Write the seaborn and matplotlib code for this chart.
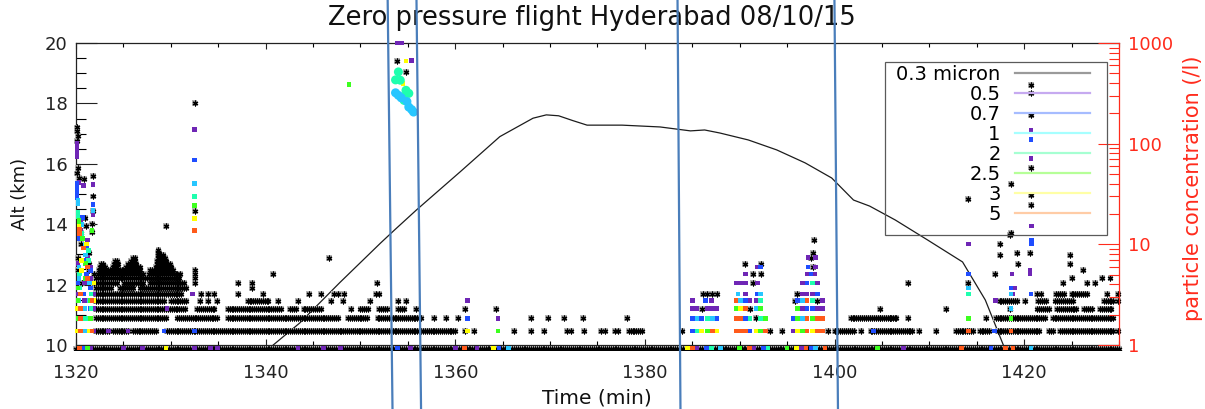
import numpy as np
import pandas as pd
import matplotlib
matplotlib.use("Agg")
import matplotlib.pyplot as plt
from matplotlib.lines import Line2D
from matplotlib.patches import Rectangle
from matplotlib.ticker import MultipleLocator, FixedLocator, FuncFormatter, LogLocator, NullFormatter
from matplotlib.transforms import Bbox, TransformedBbox, blended_transform_factory
import seaborn as sns

# ---------------------------------------------------------------------------
# Data
# ---------------------------------------------------------------------------
UNIT = 0.46          # particles per litre for one count in a sample
SAMPLE_STEP = 0.2    # minutes between samples of the counter

channels = ["0.3 micron", "0.5", "0.7", "1", "2", "2.5", "3", "5"]
point_colors = ["#000000", "#6f26b5", "#1f4dff", "#27c6ff",
                "#1effae", "#3cff1e", "#ffff00", "#ff5a1a"]
legend_colors = ["#9a9a9a", "#c6aaf0", "#a6bcff", "#a6ffff",
                 "#a6ffd2", "#b6ff98", "#ffffa6", "#ffcca6"]

# flight altitude profile
alt_time = [1340.8, 1343.6, 1347.8, 1352.1, 1353.6, 1355.9, 1360.5, 1364.7,
            1368.2, 1369.6, 1370.9, 1372.4, 1373.9, 1375.3, 1377.6, 1381.6,
            1384.8, 1386.3, 1387.9, 1390.9, 1393.9, 1396.9, 1399.7, 1402.0,
            1403.7, 1406.4, 1409.8, 1413.5, 1415.9, 1417.8]
alt_km = [10.0, 10.73, 12.06, 13.37, 13.81, 14.47, 15.73, 16.9,
          17.51, 17.62, 17.59, 17.43, 17.28, 17.28, 17.28, 17.22,
          17.09, 17.12, 17.02, 16.79, 16.46, 16.03, 15.53, 14.8,
          14.6, 14.14, 13.48, 12.75, 11.49, 10.0]

# 0.3 micron channel: continuous stretches (start min, end min, counts)
runs_03 = [
    (1320.0, 1430.0, 2),
    (1322.1, 1323.5, 3), (1323.9, 1325.6, 3), (1326.0, 1328.5, 3), (1329.6, 1360.0, 3),
    (1378.3, 1379.7, 3), (1400.0, 1402.1, 3), (1403.8, 1408.2, 3), (1412.8, 1414.6, 3),
    (1415.3, 1416.3, 3), (1417.2, 1421.7, 3), (1422.6, 1423.1, 3), (1423.8, 1429.4, 3),
    (1322.1, 1329.6, 4), (1330.7, 1334.9, 4), (1336.0, 1347.6, 4), (1348.7, 1350.8, 4),
    (1351.8, 1356.4, 4), (1401.7, 1403.7, 4), (1404.0, 1406.5, 4), (1417.0, 1422.3, 4),
    (1423.0, 1429.4, 4),
    (1322.1, 1331.6, 5), (1332.8, 1334.6, 5), (1336.0, 1341.6, 5), (1342.6, 1343.2, 5),
    (1344.0, 1345.8, 5), (1350.0, 1350.8, 5), (1352.0, 1352.9, 5), (1354.0, 1354.6, 5),
    (1421.4, 1422.6, 5), (1423.5, 1425.6, 5), (1426.3, 1427.2, 5), (1428.0, 1429.2, 5),
    (1322.1, 1329.3, 6), (1330.0, 1331.7, 6), (1338.1, 1340.4, 6), (1417.4, 1419.2, 6),
    (1421.5, 1422.3, 6), (1423.3, 1425.2, 6), (1428.4, 1429.4, 6),
    (1322.1, 1331.2, 7), (1423.4, 1424.2, 7), (1425.0, 1426.6, 7),
    (1322.1, 1323.7, 8), (1324.6, 1326.0, 8), (1326.8, 1331.6, 8),
    (1322.1, 1324.3, 9), (1325.1, 1327.2, 9), (1327.8, 1331.4, 9),
    (1322.1, 1331.0, 10),
    (1322.3, 1327.1, 11), (1327.7, 1330.7, 11),
    (1322.4, 1326.9, 12), (1327.8, 1330.3, 12),
    (1322.5, 1323.2, 13), (1323.9, 1324.4, 13), (1325.3, 1326.7, 13), (1328.4, 1330.1, 13),
    (1322.6, 1322.9, 14), (1324.0, 1324.4, 14), (1325.5, 1326.4, 14), (1328.5, 1329.9, 14),
    (1324.1, 1324.3, 15), (1325.8, 1326.3, 15), (1328.5, 1329.6, 15),
    (1326.0, 1326.2, 16), (1328.6, 1329.4, 16),
    (1328.6, 1329.3, 17), (1328.6, 1328.9, 18), (1328.7, 1328.8, 19),
]

# single samples (minute, counts) for each size channel
pts_03 = [
    (1361.0, 3), (1362.0, 3), (1366.2, 3), (1368.0, 3), (1369.4, 3), (1371.8, 3),
    (1372.2, 3), (1373.6, 3), (1375.4, 3), (1375.8, 3), (1376.8, 3), (1377.2, 3),
    (1383.9, 3), (1393.2, 3), (1394.5, 3), (1399.3, 3), (1402.8, 3), (1408.9, 3),
    (1410.7, 3), (1429.9, 3),
    (1357.8, 4), (1359.0, 4), (1360.3, 4), (1368.0, 4), (1369.8, 4), (1371.5, 4),
    (1373.5, 4), (1378.1, 4), (1391.7, 4), (1404.8, 4), (1405.8, 4), (1406.5, 4),
    (1407.7, 4), (1416.0, 4),
    (1349.0, 5), (1355.9, 5), (1361.0, 5), (1364.3, 5), (1386.0, 5), (1391.1, 5),
    (1404.8, 5), (1411.8, 5), (1418.5, 5),
    (1333.1, 6), (1333.9, 6), (1334.9, 6), (1341.3, 6), (1343.4, 6), (1346.9, 6),
    (1348.2, 6), (1351.0, 6), (1354.0, 6), (1354.8, 6), (1395.8, 6), (1398.2, 6),
    (1420.1, 6), (1429.9, 6),
    (1333.2, 7), (1333.9, 7), (1334.6, 7), (1337.1, 7), (1339.7, 7), (1344.6, 7),
    (1345.8, 7), (1347.2, 7), (1347.6, 7), (1348.3, 7), (1351.6, 7), (1352.0, 7),
    (1386.1, 7), (1386.6, 7), (1387.1, 7), (1387.6, 7), (1396.0, 7), (1421.3, 7),
    (1421.8, 7), (1428.7, 7), (1429.9, 7),
    (1338.6, 8),
    (1331.0, 9), (1332.5, 9), (1337.1, 9), (1338.6, 9), (1351.7, 9), (1391.4, 9),
    (1407.7, 9), (1414.1, 9), (1424.1, 9), (1426.6, 9), (1427.5, 9),
    (1425.0, 10), (1428.2, 10), (1429.1, 10), (1332.5, 10),
    (1331.0, 11), (1332.5, 11), (1340.8, 11), (1391.4, 11), (1392.2, 11), (1416.9, 11),
    (1332.5, 12), (1426.2, 12), (1397.7, 13),
    (1390.6, 14), (1392.2, 14), (1419.3, 14), (1424.8, 14),
    (1346.7, 16), (1397.5, 16), (1417.4, 17), (1424.8, 17),
    (1397.7, 18), (1419.2, 18), (1420.6, 18), (1417.4, 22), (1397.8, 24),
    (1418.5, 27), (1418.6, 28), (1329.5, 33), (1332.5, 47), (1420.7, 54),
    (1414.1, 61), (1420.7, 67), (1418.6, 87), (1420.7, 126), (1420.7, 415),
    (1332.5, 548), (1420.7, 685), (1420.7, 826), (1353.9, 1437), (1354.8, 1122),
    (1320.1, 315), (1320.1, 290), (1320.2, 262), (1320.1, 233), (1320.2, 124),
    (1320.1, 110), (1320.3, 100), (1321.8, 104), (1321.8, 65), (1321.8, 47),
    (1320.8, 96), (1321.0, 40), (1321.1, 33), (1320.5, 28), (1320.5, 22),
    (1321.4, 18), (1321.4, 14), (1321.4, 12), (1321.9, 11), (1321.9, 9),
    (1320.2, 16), (1320.2, 12), (1320.6, 9), (1321.7, 35), (1321.7, 29),
]

pts_05 = [
    (1320.1, 217), (1320.1, 195), (1320.1, 175), (1320.1, 160), (1320.3, 90),
    (1321.8, 85), (1321.8, 43), (1320.8, 83), (1320.5, 38), (1320.5, 30),
    (1321.2, 24), (1321.2, 16), (1321.6, 13), (1321.6, 10), (1321.6, 8),
    (1321.6, 6), (1321.6, 4), (1320.2, 14), (1320.2, 7), (1320.2, 5),
    (1320.9, 9), (1320.9, 6), (1320.9, 3), (1321.9, 7), (1321.9, 5), (1321.9, 3),
    (1321.5, 2), (1325.0, 2), (1327.0, 2), (1332.5, 2), (1334.2, 2), (1334.9, 2),
    (1343.4, 2), (1346.1, 2), (1347.9, 2), (1355.3, 2), (1360.0, 2), (1362.3, 2),
    (1385.5, 2), (1391.5, 2), (1396.5, 2), (1407.3, 2),
    (1323.4, 3), (1325.5, 3), (1329.6, 5), (1332.3, 7), (1332.5, 300),
    (1361.3, 6), (1364.5, 4), (1355.4, 1461), (1353.9, 2174), (1354.3, 2174),
    (1385.0, 5), (1385.5, 5), (1386.6, 5), (1387.1, 5), (1387.6, 5), (1385.0, 6), (1387.0, 6),
    (1391.1, 6), (1391.7, 6), (1390.6, 7), (1389.6, 9), (1390.1, 9), (1390.6, 9),
    (1391.9, 9), (1390.6, 11), (1391.9, 13),
    (1395.6, 3), (1396.6, 5), (1398.2, 5), (1398.7, 5), (1398.7, 6), (1396.6, 7),
    (1397.1, 7), (1397.7, 7), (1396.6, 9), (1398.2, 9), (1397.1, 11), (1397.9, 11),
    (1398.0, 13), (1397.2, 16), (1398.0, 16),
    (1417.0, 6), (1418.8, 7), (1418.7, 11), (1420.6, 12), (1420.6, 11), (1414.1, 22),
    (1420.8, 33), (1420.7, 154), (1420.7, 293), (1419.0, 8),
]

pts_07 = [
    (1320.1, 87), (1320.1, 78), (1320.1, 70), (1320.1, 63), (1321.8, 54),
    (1320.7, 40), (1320.4, 30), (1320.4, 25), (1321.1, 20), (1321.1, 15),
    (1321.1, 11), (1320.2, 9), (1320.2, 6), (1320.2, 3), (1321.5, 12),
    (1321.5, 8), (1321.5, 5), (1320.8, 7), (1320.8, 4),
    (1320.8, 2), (1353.9, 2), (1364.6, 2), (1386.5, 2), (1392.5, 2), (1397.5, 2), (1416.5, 2),
    (1329.3, 3), (1332.5, 3), (1361.3, 4), (1332.5, 149), (1404.1, 3),
    (1385.0, 3), (1385.0, 4), (1386.0, 4), (1387.6, 4), (1386.4, 6),
    (1391.1, 3), (1390.6, 4), (1390.6, 6), (1391.9, 7), (1392.2, 13),
    (1395.6, 4), (1397.1, 5), (1397.7, 5), (1396.1, 6), (1398.2, 7), (1397.1, 9),
    (1397.5, 11), (1397.2, 13),
    (1416.9, 3), (1414.1, 11), (1420.7, 7), (1418.6, 8), (1420.8, 24), (1420.8, 22),
    (1420.7, 239),
]

pts_1 = [
    (1320.2, 60), (1320.2, 55), (1321.8, 47), (1320.6, 34), (1321.0, 22),
    (1321.0, 17), (1320.3, 13), (1320.3, 10), (1320.3, 6), (1321.4, 9),
    (1321.4, 6), (1321.4, 4), (1320.9, 5), (1320.9, 3),
    (1365.6, 2), (1388.0, 2), (1398.0, 2), (1420.7, 2),
    (1332.5, 87), (1385.5, 4), (1387.1, 4),
    (1391.7, 5), (1390.1, 6), (1389.8, 7), (1392.2, 7),
    (1396.6, 4), (1396.6, 6),
    (1414.1, 8), (1418.6, 7), (1418.6, 5),
]

pts_2 = [
    (1320.2, 45), (1320.2, 41), (1320.6, 28), (1321.3, 19), (1321.3, 15),
    (1320.4, 11), (1320.4, 8), (1321.6, 7), (1321.6, 5), (1321.0, 4),
    (1387.0, 2), (1393.0, 2),
    (1332.5, 65), (1385.5, 3), (1386.6, 4),
    (1391.1, 4), (1392.2, 4), (1392.2, 6),
    (1397.7, 6), (1397.7, 9), (1414.1, 7),
]

pts_25 = [
    (1320.3, 38), (1320.3, 35), (1321.7, 30), (1320.7, 25), (1321.0, 14),
    (1321.0, 10), (1320.2, 8), (1320.2, 6), (1320.2, 4), (1321.5, 6), (1321.5, 4),
    (1321.2, 2), (1390.0, 2), (1395.0, 2), (1404.5, 2),
    (1332.5, 53), (1348.8, 846), (1364.5, 3), (1386.6, 3),
    (1392.2, 3), (1392.7, 4), (1389.6, 5), (1392.2, 5),
    (1396.6, 3), (1396.1, 4), (1397.7, 4), (1396.1, 5),
    (1414.1, 4), (1418.6, 4),
]

pts_3 = [
    (1320.3, 33), (1321.1, 22), (1320.6, 15), (1320.6, 12), (1321.9, 9),
    (1321.9, 6), (1320.1, 5), (1320.1, 3), (1321.4, 3),
    (1329.5, 2), (1364.0, 2), (1384.5, 2), (1396.0, 2),
    (1332.5, 39), (1361.3, 3), (1354.8, 1437), (1354.5, 865),
    (1386.0, 3), (1387.6, 3), (1391.7, 3), (1390.1, 5),
    (1396.1, 3), (1397.7, 3),
]

pts_5 = [
    (1320.4, 31), (1320.4, 28), (1320.8, 20), (1321.2, 13), (1321.2, 10),
    (1320.5, 7), (1320.5, 5), (1320.5, 4), (1320.5, 3), (1321.7, 6), (1321.7, 3),
    (1320.4, 2), (1361.0, 2), (1385.0, 2), (1391.0, 2), (1397.0, 2), (1399.0, 2),
    (1413.4, 2), (1418.0, 2), (1418.8, 2),
    (1332.5, 30), (1387.1, 3),
    (1389.6, 3), (1390.1, 3), (1390.6, 3), (1392.7, 3), (1389.6, 4), (1390.1, 4),
    (1390.6, 5), (1389.6, 6),
    (1397.1, 3), (1398.2, 3), (1398.7, 3), (1397.1, 4), (1398.2, 4), (1398.7, 4),
    (1397.1, 6), (1414.1, 3), (1418.6, 3),
]

# burst of large particles seen near 1354 min
burst_2 = [(1354.0, 1122), (1353.7, 935), (1354.2, 928), (1354.8, 737),
           (1355.1, 687), (1354.4, 630), (1354.6, 585)]
burst_1 = [(1353.7, 696), (1354.0, 657), (1354.3, 620), (1354.9, 570),
           (1355.1, 502), (1355.4, 474), (1355.6, 448)]

# ---------------------------------------------------------------------------
# Tables
# ---------------------------------------------------------------------------
def run_samples(runs):
    t, n = [], []
    for t0, t1, c in runs:
        ts = np.arange(t0, t1 + 1e-9, SAMPLE_STEP)
        t.extend(ts)
        n.extend([c] * len(ts))
    return t, n

rt, rn = run_samples(runs_03)
black = pd.DataFrame({"time": list(rt) + [p[0] for p in pts_03],
                      "count": list(rn) + [p[1] for p in pts_03]})
black["conc"] = black["count"] * UNIT

colored_lists = [pts_05, pts_07, pts_1, pts_2, pts_25, pts_3, pts_5]
frames = []
for name, pts in zip(channels[1:], colored_lists):
    frames.append(pd.DataFrame({"channel": name,
                                "time": [p[0] for p in pts],
                                "count": [p[1] for p in pts]}))
colored = pd.concat(frames, ignore_index=True)
colored["conc"] = colored["count"] * UNIT

burst = pd.concat([
    pd.DataFrame({"channel": "2", "time": [p[0] for p in burst_2], "count": [p[1] for p in burst_2]}),
    pd.DataFrame({"channel": "1", "time": [p[0] for p in burst_1], "count": [p[1] for p in burst_1]}),
], ignore_index=True)
burst["conc"] = burst["count"] * UNIT

palette = dict(zip(channels, point_colors))

# ---------------------------------------------------------------------------
# Figure
# ---------------------------------------------------------------------------
RED = "#ff2b1c"
plt.rcParams["font.family"] = ["DejaVu Sans"]

fig = plt.figure(figsize=(12.05, 4.09), dpi=100)
fig.patch.set_facecolor("white")
ax = fig.add_axes([76 / 1205, 1 - 345 / 409, 1043 / 1205, 302 / 409])
ax2 = ax.twinx()

# altitude profile on the left axis
sns.lineplot(x=alt_time, y=alt_km, ax=ax, color="#1c1c1c", linewidth=0.9,
             estimator=None, sort=False)
ax.set_xlim(1320, 1430)
ax.set_ylim(10, 20)

# particle concentrations on the right (log) axis
ax2.set_yscale("log")
ax2.set_ylim(1, 1000)

clip_bb = TransformedBbox(Bbox([[-0.004, -0.017], [1.004, 1.008]]), ax2.transAxes)

def clip_last(axis):
    coll = axis.collections[-1]
    coll.set_clip_path(None)
    coll.set_clip_box(clip_bb)

sns.scatterplot(data=black, x="time", y="conc", ax=ax2, marker="s", s=18,
                color="#b4b4b4", edgecolor="none", linewidth=0, legend=False)
clip_last(ax2)
sns.scatterplot(data=black, x="time", y="conc", ax=ax2, marker=(6, 2, 0), s=12,
                color="black", linewidth=0.9, legend=False)
clip_last(ax2)
sns.scatterplot(data=colored, x="time", y="conc", hue="channel", palette=palette,
                hue_order=channels[1:], ax=ax2, marker="s", s=11,
                edgecolor="none", linewidth=0, legend=False)
clip_last(ax2)
sns.scatterplot(data=burst, x="time", y="conc", hue="channel", palette=palette,
                hue_order=channels[1:], ax=ax2, marker="o", s=42,
                edgecolor="none", linewidth=0, legend=False)
clip_last(ax2)

# axes styling
for s in ("left", "top", "bottom"):
    ax.spines[s].set_color("#222222")
    ax.spines[s].set_linewidth(0.9)
    ax2.spines[s].set_visible(False)
ax.spines["right"].set_visible(False)
ax2.spines["right"].set_color(RED)
ax2.spines["right"].set_linewidth(0.9)

ax.set_xticks([1320, 1340, 1360, 1380, 1400, 1420])
ax.xaxis.set_minor_locator(MultipleLocator(5))
ax.set_yticks([10, 12, 14, 16, 18, 20])
ax.yaxis.set_minor_locator(MultipleLocator(0.5))
ax.tick_params(axis="x", which="major", direction="in", top=True, bottom=True,
               length=4.5, width=0.8, labelsize=13, pad=14, colors="#222222")
ax.tick_params(axis="x", which="minor", direction="in", top=True, bottom=True,
               length=2.8, width=0.8)
ax.tick_params(axis="y", which="major", direction="in", left=True, right=False,
               length=15, width=0.8, labelsize=13, pad=6, colors="#222222")
ax.tick_params(axis="y", which="minor", direction="in", left=True, right=False,
               length=7.5, width=0.8)
ax.set_xlabel("")
ax.set_ylabel("")

ax2.yaxis.set_major_locator(FixedLocator([1, 10, 100, 1000]))
ax2.yaxis.set_major_formatter(FuncFormatter(lambda v, p: f"{v:g}"))
ax2.yaxis.set_minor_locator(LogLocator(base=10, subs=np.arange(2, 10)))
ax2.yaxis.set_minor_formatter(NullFormatter())
ax2.tick_params(axis="y", which="major", direction="in", length=15, width=0.8,
                labelsize=13, pad=6.5, colors=RED)
ax2.tick_params(axis="y", which="minor", direction="in", length=7.5, width=0.8,
                colors=RED)
ax2.set_ylabel("")

# legend of size channels: entries without frame, box drawn separately
handles = [Line2D([], [], color=c, linewidth=1.6) for c in legend_colors]
leg = ax2.legend(handles, channels, loc="upper right",
                 bbox_to_anchor=((1090 - 76) / 1043, (345 - 65) / 302),
                 markerfirst=False, frameon=False, fontsize=14,
                 handlelength=3.85, handletextpad=0.75, labelspacing=0.05,
                 borderpad=0.0, borderaxespad=0.0)
ax2.add_patch(Rectangle(((885 - 76) / 1043, (345 - 235) / 302),
                        (1107 - 885) / 1043, (235 - 61.7) / 302,
                        transform=ax2.transAxes, fill=False,
                        edgecolor="#5a5a5a", linewidth=0.9, zorder=6))

# titles and axis labels
fig.text(0.491, 1 - 18 / 409, "Zero pressure flight Hyderabad 08/10/15",
         ha="center", va="center", fontsize=18.5, color="#111111")
fig.text(20 / 1205, 1 - 194 / 409, "Alt (km)", rotation=90, ha="center",
         va="center", fontsize=13, color="#111111")
fig.text(597 / 1205, 1 - 389 / 409, "Time (min)", ha="center", va="top",
         fontsize=14.5, color="#111111")
fig.text(1193 / 1205, 1 - 188 / 409, "particle concentration (/l)", rotation=90,
         ha="center", va="center", fontsize=15, color=RED)

# marked time windows, drawn across the whole figure
window_top = [1352.87, 1355.91, 1383.44, 1399.99]
window_bottom = [1353.38, 1356.39, 1383.75, 1400.36]
tr = blended_transform_factory(ax.transData, fig.transFigure)
for a, b in zip(window_top, window_bottom):
    fig.add_artist(Line2D([a, b], [1, 0], transform=tr, color="#4a7ebb",
                          linewidth=1.6, zorder=10))

fig.savefig("out.png", dpi=100)
